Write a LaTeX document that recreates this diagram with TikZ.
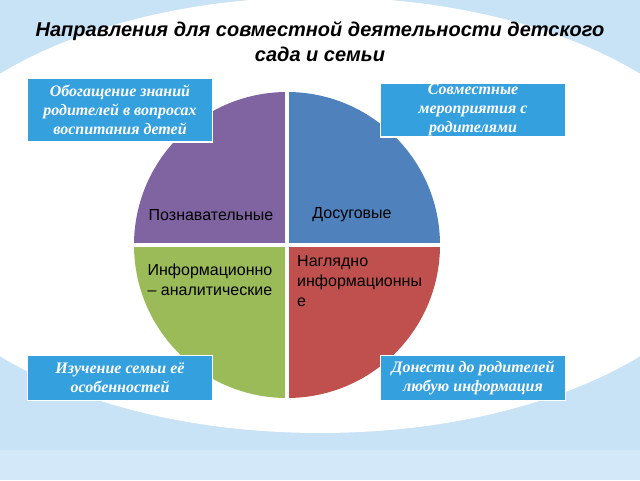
\documentclass[tikz,border=0pt]{standalone}
\usepackage{fontspec}
\setmainfont{Liberation Sans}
\newfontfamily\boxfont{Liberation Serif}
\definecolor{bgblue}{RGB}{200,226,246}
\definecolor{qpurple}{RGB}{128,100,162}
\definecolor{qblue}{RGB}{79,129,189}
\definecolor{qgreen}{RGB}{155,187,89}
\definecolor{qred}{RGB}{192,80,77}
\definecolor{boxblue}{RGB}{52,160,222}
\tikzset{
  notebox/.style={draw=white, line width=1.2pt, fill=boxblue, text=white,
    minimum width=185pt, align=center, inner sep=1pt, font=\boxfont\bfseries\itshape\fontsize{16}{19}\selectfont},
  qlabel/.style={font=\fontsize{16}{20}\selectfont, align=left, inner sep=1pt}
}
\begin{document}
\begin{tikzpicture}[x=1pt,y=1pt]
  \useasboundingbox (0,0) rectangle (640,480);
  % background
  \fill[bgblue] (0,0) rectangle (640,480);
  \fill[white] (320,265) ellipse [x radius=420, y radius=218];
  \fill[bgblue!80] (0,0) rectangle (640,30);
  % title
  \node (title) at (320,438) [align=center, font=\bfseries\itshape\fontsize{20}{25}\selectfont]
    {Направления для совместной деятельности детского\\сада и семьи};
  % circle quadrants
  \coordinate (c) at (287,235);
  \fill[qblue] (c) -- ++(0:153) arc (0:90:153) -- cycle;
  \fill[qpurple] (c) -- ++(90:153) arc (90:180:153) -- cycle;
  \fill[qgreen] (c) -- ++(180:153) arc (180:270:153) -- cycle;
  \fill[qred] (c) -- ++(270:153) arc (270:360:153) -- cycle;
  \draw[white, line width=4pt] (c) ++(-160,0) -- ++(320,0);
  \draw[white, line width=4pt] (c) ++(0,-160) -- ++(0,320);
  % quadrant labels
  \node[qlabel] (cog) at (211,265) {Познавательные};
  \node[qlabel] (leis) at (352,265) {Досуговые};
  \node[qlabel] (info) at (210,200) {Информационно\\– аналитические};
  \node[qlabel, anchor=north west] (vis) at (296,226) {Наглядно\\информационны\\е};
  % boxes
  \node[notebox, minimum height=64pt] (b1) at (120,370) {Обогащение знаний\\родителей в вопросах\\воспитания детей};
  \node[notebox, minimum height=45pt] (b2) at (473,370) {Совместные\\мероприятия с\\родителями};
  \node[notebox, minimum height=45pt] (b3) at (120,102) {Изучение семьи её\\особенностей};
  \node[notebox, minimum height=45pt] (b4) at (473,102) {Донести до родителей\\любую информация};
\end{tikzpicture}
\end{document}
